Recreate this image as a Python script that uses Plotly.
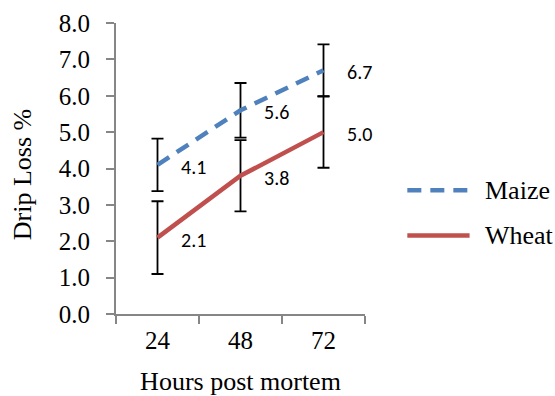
import plotly.graph_objects as go

# Drip loss (%) by hours post mortem for two diets
hours = ["24", "48", "72"]
maize = [4.1, 5.6, 6.7]
maize_err = [0.72, 0.75, 0.71]
wheat = [2.1, 3.8, 5.0]
wheat_err = [1.0, 0.98, 0.98]
y_ticks = [0, 1, 2, 3, 4, 5, 6, 7, 8]

BLUE = "#4F81BD"
RED = "#C0504D"
AXIS = "#868686"
SERIF = "Liberation Serif, Times New Roman, serif"
SANS = "Carlito, Liberation Sans, Arial, sans-serif"

fig = go.Figure()

series = [
    ("Maize", maize, maize_err, BLUE, "14px,9px"),
    ("Wheat", wheat, wheat_err, RED, "solid"),
]

for name, vals, err, color, dash in series:
    fig.add_trace(go.Scatter(
        x=hours, y=vals, name=name, mode="lines",
        line=dict(color=color, width=4.5, dash=dash),
        error_y=dict(type="data", array=err, visible=True,
                     color="black", thickness=1.8, width=6),
        showlegend=False,
    ))
    # value labels to the right of each point (category index on the x axis)
    for i, v in enumerate(vals):
        fig.add_annotation(
            x=i, y=v, text=f"{v:.1f}", showarrow=False,
            xanchor="left", yanchor="middle", xshift=21, yshift=-2,
            font=dict(family=SANS, size=20, color="black"),
        )

# legend: line sample + label, stacked on the right
legend_rows = [("Maize", BLUE, "dash", 0.425), ("Wheat", RED, "solid", 0.27)]
for name, color, dash, yp in legend_rows:
    fig.add_shape(
        type="line", xref="paper", yref="paper",
        x0=1.17, x1=1.42, y0=yp, y1=yp,
        line=dict(color=color, width=4.5, dash="14px,9px" if dash == "dash" else "solid"),
    )
    fig.add_annotation(
        xref="paper", yref="paper", x=1.475, y=yp, text=name,
        showarrow=False, xanchor="left", yanchor="middle",
        font=dict(family=SERIF, size=26, color="black"),
    )

# y-axis title, placed to the left of the tick labels
fig.add_annotation(
    xref="paper", yref="paper", x=-0.378, y=0.48, text="Drip Loss %",
    textangle=-90, showarrow=False, xanchor="center", yanchor="middle",
    font=dict(family=SERIF, size=26, color="black"),
)

fig.update_layout(
    width=555, height=396,
    margin=dict(l=116, r=190, t=23, b=82),
    paper_bgcolor="white", plot_bgcolor="white",
    font=dict(family=SERIF, color="black"),
    showlegend=False,
)

fig.update_xaxes(
    type="category", range=[-0.5, 2.5], automargin=False,
    showgrid=False, zeroline=False,
    showline=True, linecolor=AXIS, linewidth=2,
    ticks="outside", tickson="boundaries", ticklen=8, tickwidth=2, tickcolor=AXIS,
    ticklabelstandoff=3,
    tickfont=dict(family=SERIF, size=25, color="black"),
    title=dict(text="Hours post mortem", font=dict(family=SERIF, size=26, color="black"), standoff=21),
)

fig.update_yaxes(
    range=[0, 8], tickvals=y_ticks, ticktext=[f"{t:.1f}" for t in y_ticks],
    automargin=False,
    showgrid=False, zeroline=False,
    showline=True, linecolor=AXIS, linewidth=2,
    ticks="outside", ticklen=8, tickwidth=2, tickcolor=AXIS,
    ticklabelstandoff=11,
    tickfont=dict(family=SERIF, size=25, color="black"),
)

fig.write_html("out.html")
